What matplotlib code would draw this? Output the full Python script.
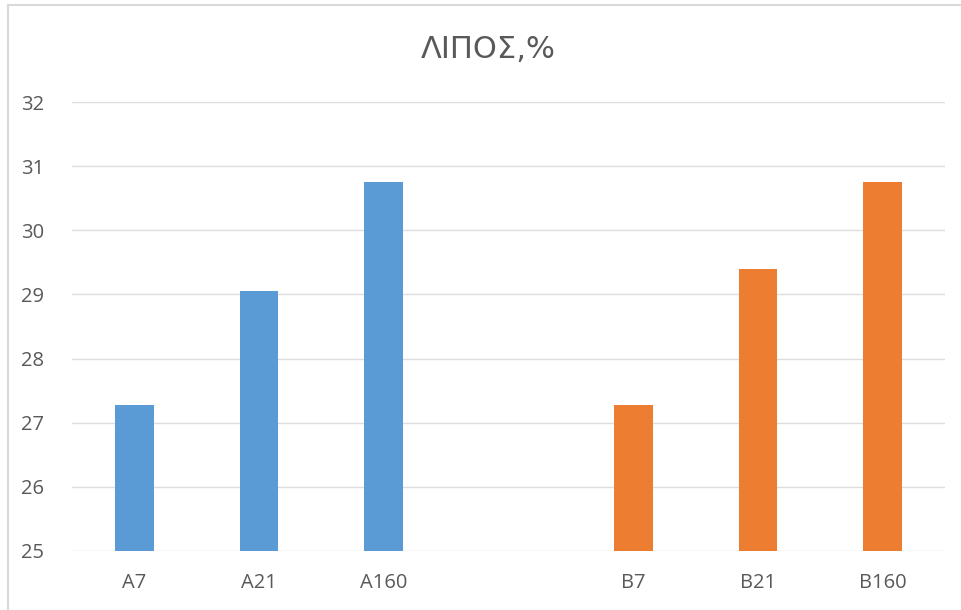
import matplotlib
matplotlib.use("Agg")
import matplotlib.pyplot as plt
from matplotlib.lines import Line2D

title = "ΛΙΠΟΣ,%"
labels_a = ["A7", "A21", "A160"]
values_a = [27.28, 29.05, 30.75]
labels_b = ["B7", "B21", "B160"]
values_b = [27.28, 29.40, 30.75]
yticks = [25, 26, 27, 28, 29, 30, 31, 32]

color_a = "#5B9BD5"
color_b = "#ED7D31"

fig = plt.figure(figsize=(9.61, 6.10), dpi=100)
ax = fig.add_axes([72/961, 1-551/610, (945-72)/961, (551-102)/610])

pos_a = [0, 1, 2]
pos_b = [4, 5, 6]
bw = 0.31
ax.bar(pos_a, values_a, width=bw, bottom=0, color=color_a, zorder=3)
ax.bar(pos_b, values_b, width=bw, bottom=0, color=color_b, zorder=3)

ax.set_xlim(-0.5, 6.5)
ax.set_ylim(25, 32)
ax.set_yticks(yticks)
ax.set_xticks(pos_a + pos_b)
ax.set_xticklabels(labels_a + labels_b)
ax.grid(axis="y", color="#DDDDDD", linewidth=1.0, zorder=0)
for s in ax.spines.values():
    s.set_visible(False)
ax.tick_params(axis="both", length=0, colors="#595959", labelsize=14.5)
for t in ax.get_xticklabels() + ax.get_yticklabels():
    t.set_fontfamily("Open Sans")
ax.tick_params(axis="x", pad=16)
ax.tick_params(axis="y", pad=20)

fig.text(488/961, 1-50/610, title, ha="center", va="center", fontsize=22,
         color="#595959", family="Liberation Sans Narrow")

fig.add_artist(Line2D([8/961, 8/961], [0, 1-5/610], transform=fig.transFigure,
                      color="#D9D9D9", linewidth=1.5))
fig.add_artist(Line2D([8/961, 1], [1-5/610, 1-5/610], transform=fig.transFigure,
                      color="#D9D9D9", linewidth=1.5))

fig.savefig("out.png", dpi=100)
